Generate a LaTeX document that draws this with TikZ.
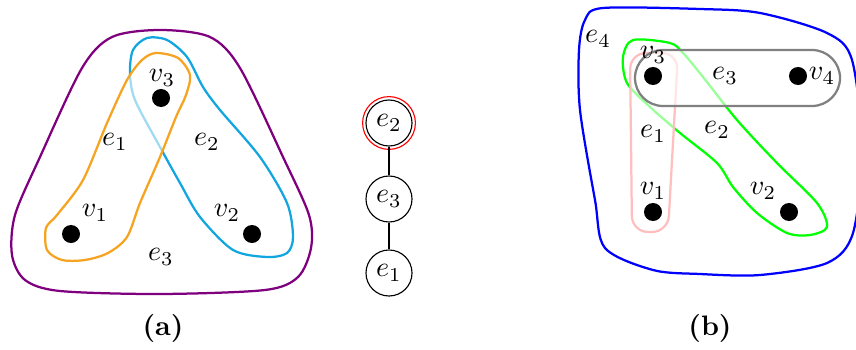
\documentclass[tikz,border=0pt]{standalone}
\definecolor{edgeorange}{HTML}{F5A320}
\definecolor{edgecyan}{HTML}{12A6E0}
\definecolor{edgepurple}{HTML}{7F007F}
\begin{document}
\begin{tikzpicture}[x=0.0125cm,y=-0.0125cm,
  vertex/.style={circle,fill=black,inner sep=0pt,minimum size=0.225cm},
  treenode/.style={circle,draw,inner sep=0pt,minimum size=0.575cm},
  hyperedge/.style={thick},
  veil/.style={fill=white,fill opacity=0.6}]
  \useasboundingbox (0,0) rectangle (856,350);
  \draw [hyperedge,edgepurple] plot [smooth cycle] coordinates {
    (160,30) (210,37) (240,68) (283,157) (309,215) (311,248) (298,277)
    (265,290) (160,294) (60,291) (25,280) (12,255) (15,215) (40,157)
    (82,68) (112,37)};
  \draw [hyperedge,edgecyan] plot [smooth cycle] coordinates {
    (147,38) (167,40) (187,57) (203,87) (220,110) (260,157) (287,203)
    (293,237) (287,253) (267,257) (233,250) (200,217) (180,183)
    (160,147) (135,100) (130,73) (133,50)};
  \draw [hyperedge,edgeorange,veil] plot [smooth cycle] coordinates {
    (156,53) (178,58) (190,75) (186,95) (176,117) (160,157) (140,203)
    (127,237) (108,253) (85,260) (62,260) (47,250) (46,228) (57,215)
    (83,180) (107,123) (127,80) (142,60)};
  \node [vertex] (v1) at (71,234) {};
  \node [vertex] (v2) at (252,234) {};
  \node [vertex] (v3) at (161,98) {};
  \node (v1 label) at (95,213) {$v_1$};
  \node (v2 label) at (227,213) {$v_2$};
  \node (v3 label) at (162,78) {$v_3$};
  \node (e1 label) at (115,142) {$e_1$};
  \node (e2 label) at (207,142) {$e_2$};
  \node (e3 label) at (161,257) {$e_3$};
  \node [treenode] (e2) at (389,123) {$e_2$};
  \node [treenode] (e3) at (389,199) {$e_3$};
  \node [treenode] (e1) at (389,273) {$e_1$};
  \draw [red] (e2.center) circle [radius=0.33cm];
  \draw (e2) -- (e3);
  \draw (e3) -- (e1);
  \draw [hyperedge,blue] plot [smooth cycle] coordinates {
    (603,8) (700,9) (760,13) (827,33) (852,60) (862,150) (853,233)
    (827,263) (760,275) (700,274) (653,270) (605,248) (595,200)
    (580,110) (579,50) (585,20)};
  \draw [hyperedge,green] plot [smooth cycle] coordinates {
    (633,40) (670,43) (683,53) (703,77) (737,120) (777,163) (817,203)
    (827,227) (810,235) (787,233) (757,213) (733,187) (717,163)
    (680,133) (650,107) (627,83) (623,57)};
  \draw [hyperedge,red!25,veil,rounded corners=0.2cm]
    (630,53) -- (678,53) -- (668,232) -- (632,232) -- cycle;
  \draw [hyperedge,gray,veil,rounded corners=0.35cm]
    (635,50) rectangle (840,106);
  \node [vertex] (v1b) at (653,212) {};
  \node [vertex] (v2b) at (789,212) {};
  \node [vertex] (v3b) at (653,76) {};
  \node [vertex] (v4b) at (798,76) {};
  \node (v1b label) at (653,191) {$v_1$};
  \node (v2b label) at (763,191) {$v_2$};
  \node (v3b label) at (653,55) {$v_3$};
  \node (v4b label) at (822,76) {$v_4$};
  \node (e1b label) at (653,134) {$e_1$};
  \node (e2b label) at (717,130) {$e_2$};
  \node (e3b label) at (725,76) {$e_3$};
  \node (e4b label) at (598,39) {$e_4$};
  \node (caption a) at (163,328) {\textbf{(a)}};
  \node (caption b) at (710,328) {\textbf{(b)}};
\end{tikzpicture}
\end{document}
